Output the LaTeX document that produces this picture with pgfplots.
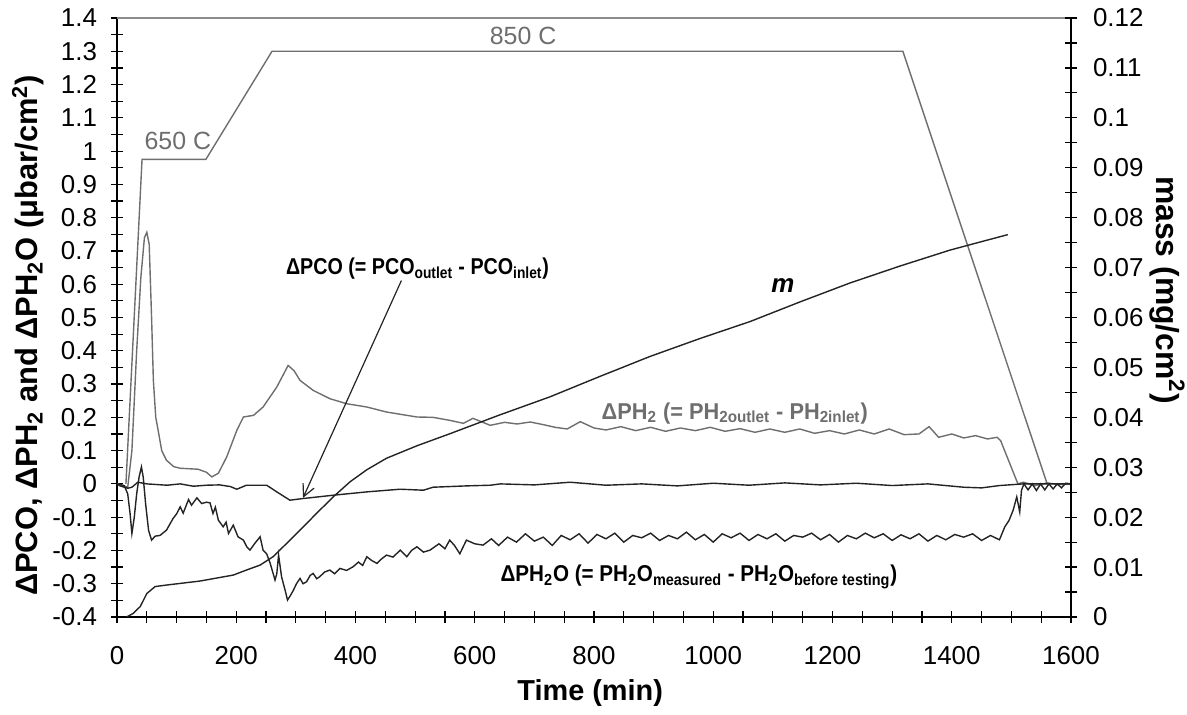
\documentclass[border=0pt]{standalone}
\usepackage{fontspec}
\setmainfont{Liberation Sans}
\usepackage{pgfplots}
\pgfplotsset{compat=1.18}
\usetikzlibrary{arrows.meta}
\definecolor{tgray}{RGB}{110,110,110}
\definecolor{bgray}{RGB}{140,140,140}
\definecolor{lblack}{RGB}{35,35,35}
\begin{document}
\begin{tikzpicture}
\path[use as bounding box] (-58.5bp,-49bp) rectangle (535bp,308.5bp);
\begin{axis}[
  at={(0,0)}, anchor=south west, scale only axis,
  width=477bp, height=299.5bp,
  xmin=0, xmax=1600, ymin=-0.4, ymax=1.4,
  axis x line*=bottom, axis y line*=left,
  xtick={0,200,400,600,800,1000,1200,1400,1600}, minor x tick num=3,
  ytick={-0.4,-0.3,-0.2,-0.1,0,0.1,0.2,0.3,0.4,0.5,0.6,0.7,0.8,0.9,1,1.1,1.2,1.3,1.4},
  minor y tick num=1,
  tick align=center, major tick length=6bp, minor tick length=6bp,
  tick style={black, line width=0.6bp},
  axis line style={black, line width=0.8bp},
  scaled ticks=false,
  ticklabel style={font=\fontsize{13}{15}\selectfont},
  /pgf/number format/assume math mode=true,
  /pgf/number format/1000 sep={},
  xticklabel shift=8bp, yticklabel shift=3.5bp,
  xlabel={\bfseries Time (min)},
  xlabel style={font=\fontsize{14.5}{16}\selectfont, at={(axis description cs:0.496,-0.127)}, anchor=center},
  ylabel={\bfseries ΔPCO, ΔPH\textsubscript{2} and ΔPH\textsubscript{2}O (μbar/cm\textsuperscript{2})},
  ylabel style={font=\fontsize{15.5}{17}\selectfont, at={(axis description cs:-0.0933,0.47)}, anchor=center},
]
\draw[color=bgray, line width=0.8bp] (rel axis cs:0,1) -- (rel axis cs:1,1);
% temperature profile
\addplot[tgray, line width=0.7bp] coordinates {
(15,0) (42,0.975) (149,0.975) (260,1.3) (1318,1.3) (1560,0)
};
% Delta PH2
\addplot[tgray, line width=0.7bp] coordinates {
(0,0) (10,-0.005) (18,-0.01) (25,0.1) (33,0.4) (40,0.62) (46,0.74) (50,0.756) (54,0.72) (58,0.5) (61,0.311) (65,0.2) (69,0.161) (75,0.1) (83,0.071) (95,0.052) (106,0.047) (136,0.044) (150,0.035) (159,0.021) (170,0.032) (184,0.081) (201,0.161) (212,0.201) (229,0.206) (245,0.231) (268,0.291) (287,0.356) (297,0.34) (307,0.311) (329,0.281) (357,0.256) (385,0.241) (419,0.231) (452,0.216) (503,0.201) (530,0.2) (558,0.191) (581,0.182) (597,0.197) (626,0.176) (650,0.185) (671,0.180) (693,0.186) (715,0.178) (735,0.170) (755,0.165) (777,0.187) (800,0.168) (820,0.162) (845,0.172) (870,0.160) (895,0.170) (920,0.158) (945,0.168) (970,0.160) (995,0.170) (1020,0.158) (1045,0.166) (1070,0.155) (1095,0.165) (1120,0.155) (1145,0.165) (1170,0.152) (1195,0.160) (1220,0.150) (1245,0.162) (1270,0.150) (1295,0.165) (1320,0.148) (1345,0.150) (1362,0.172) (1378,0.140) (1400,0.150) (1420,0.138) (1440,0.145) (1460,0.135) (1476,0.140) (1482,0.130) (1511,0.0) (1520,0.005) (1540,-0.005) (1560,0.003) (1580,-0.002) (1600,0.0)
};
% Delta PCO
\addplot[lblack, line width=0.7bp] coordinates {
(0,0) (5,-0.006) (18,-0.013) (25,-0.01) (35,0.005) (50,0) (84,-0.004) (106,0) (128,-0.007) (150,-0.004) (172,-0.003) (190,-0.008) (201,-0.016) (217,-0.004) (251,-0.004) (268,-0.024) (290,-0.049) (312,-0.044) (363,-0.034) (419,-0.024) (475,-0.016) (514,-0.019) (530,-0.01) (586,-0.006) (626,-0.004) (643,0) (700,-0.003) (760,0.005) (820,-0.004) (880,0.0) (940,-0.006) (1000,0.002) (1060,-0.004) (1120,0.003) (1180,-0.003) (1240,0.002) (1300,-0.005) (1360,0.0) (1420,-0.01) (1450,-0.012) (1480,-0.005) (1520,0.0) (1600,0.0)
};
% Delta PH2O
\addplot[lblack, line width=0.7bp] coordinates {
(0,0) (12,-0.005) (18,-0.03) (22,-0.09) (25,-0.149) (29,-0.1) (33,-0.03) (37,0.02) (41,0.051) (44,0.02) (48,-0.06) (53,-0.14) (58,-0.169) (64,-0.157) (72,-0.155) (83,-0.139) (94,-0.104) (100,-0.09) (106,-0.069) (111,-0.088) (120,-0.047) (125,-0.064) (134,-0.042) (142,-0.059) (150,-0.055) (156,-0.057) (161,-0.089) (165,-0.07) (170,-0.109) (178,-0.129) (183,-0.115) (187,-0.149) (195,-0.124) (203,-0.159) (212,-0.169) (218,-0.19) (223,-0.199) (231,-0.179) (240,-0.159) (245,-0.199) (251,-0.21) (257,-0.239) (265,-0.289) (268,-0.27) (271,-0.214) (276,-0.279) (282,-0.32) (286,-0.349) (291,-0.335) (296,-0.319) (301,-0.3) (307,-0.284) (312,-0.3) (318,-0.294) (324,-0.275) (329,-0.269) (335,-0.285) (340,-0.279) (348,-0.265) (357,-0.259) (365,-0.27) (374,-0.254) (385,-0.26) (396,-0.249) (405,-0.235) (412,-0.245) (419,-0.219) (427,-0.23) (436,-0.239) (444,-0.225) (452,-0.214) (463,-0.22) (475,-0.199) (486,-0.219) (494,-0.2) (503,-0.189) (514,-0.205) (525,-0.199) (540,-0.18) (550,-0.195) (558,-0.169) (566,-0.185) (575,-0.21) (586,-0.169) (600,-0.18) (614,-0.184) (628,-0.165) (640,-0.185)
(655,-0.160) (670,-0.175) (685,-0.150) (700,-0.172) (715,-0.160) (730,-0.185) (745,-0.155) (760,-0.168) (775,-0.150) (790,-0.178) (805,-0.152) (820,-0.165) (835,-0.148) (850,-0.175) (865,-0.155) (880,-0.162) (895,-0.148) (910,-0.170) (925,-0.155) (940,-0.165) (955,-0.145) (970,-0.168) (985,-0.152) (1000,-0.175) (1015,-0.150) (1030,-0.162) (1045,-0.148) (1060,-0.170) (1075,-0.152) (1090,-0.165) (1105,-0.150) (1120,-0.172) (1135,-0.155) (1150,-0.160) (1165,-0.148) (1180,-0.168) (1195,-0.152) (1210,-0.175) (1225,-0.155) (1240,-0.165) (1255,-0.148) (1270,-0.162) (1285,-0.150) (1300,-0.170) (1315,-0.153) (1330,-0.165) (1345,-0.150) (1360,-0.172) (1375,-0.155) (1390,-0.168) (1405,-0.152) (1420,-0.160) (1435,-0.150) (1450,-0.170) (1465,-0.155) (1480,-0.168)
(1489,-0.129) (1496,-0.11) (1503,-0.079) (1509,-0.039) (1514,-0.084) (1517,-0.019) (1521,0.0) (1528,-0.018) (1535,0.0) (1542,-0.02) (1549,0.0) (1556,-0.018) (1563,0.0) (1570,-0.015) (1577,0.0) (1584,-0.012) (1591,0.002) (1600,0.0)
};
\node[text=tgray, font=\fontsize{12.5}{14}\selectfont] at (axis cs:102,1.031) {650 C};
\node[text=tgray, font=\fontsize{12.5}{14}\selectfont] at (axis cs:681,1.345) {850 C};
\node[xscale=0.86, font=\bfseries\fontsize{11.5}{13}\selectfont] at (axis cs:504,0.647) {ΔPCO (= PCO\textsubscript{outlet} - PCO\textsubscript{inlet})};
\node[xscale=0.95, text=tgray, font=\bfseries\fontsize{11.5}{13}\selectfont] at (axis cs:1036,0.212) {ΔPH\textsubscript{2} (= PH\textsubscript{2outlet} - PH\textsubscript{2inlet})};
\node[xscale=0.9, font=\bfseries\fontsize{11.5}{13}\selectfont] at (axis cs:976,-0.28) {ΔPH\textsubscript{2}O (= PH\textsubscript{2}O\textsubscript{measured} - PH\textsubscript{2}O\textsubscript{before testing})};
\node[font=\bfseries\itshape\fontsize{13}{15}\selectfont] at (axis cs:1117,0.596) {m};
\draw[lblack, line width=0.6bp, -{Straight Barb[length=6bp,width=6bp]}] (axis cs:477,0.611) -- (axis cs:312,-0.042);
\end{axis}
\begin{axis}[
  at={(0,0)}, anchor=south west, scale only axis,
  width=477bp, height=299.5bp,
  xmin=0, xmax=1600, ymin=0, ymax=0.12,
  axis x line=none, axis y line*=right,
  ytick={0,0.01,0.02,0.03,0.04,0.05,0.06,0.07,0.08,0.09,0.1,0.11,0.12},
  minor y tick num=1,
  tick align=center, major tick length=6bp, minor tick length=6bp,
  tick style={black, line width=0.6bp},
  axis line style={black, line width=0.8bp},
  scaled ticks=false,
  ticklabel style={font=\fontsize{13}{15}\selectfont},
  /pgf/number format/assume math mode=true,
  yticklabel style={/pgf/number format/fixed, /pgf/number format/precision=2},
  yticklabel shift=4.5bp,
  ylabel={\bfseries mass (mg/cm\textsuperscript{2})},
  ylabel style={font=\fontsize{16}{18}\selectfont, at={(axis description cs:1.101,0.546)}, anchor=center, rotate=180},
]
\addplot[lblack, line width=0.7bp] coordinates {
(16,0) (27,0.0007) (39,0.0021) (50,0.0047) (64,0.0061) (83,0.0064) (111,0.0068) (139,0.0072) (167,0.0078) (195,0.0084) (217,0.0094) (240,0.0104) (262,0.0121) (285,0.0148) (307,0.0174) (335,0.0208) (363,0.0241) (391,0.0271) (419,0.0295) (452,0.0318) (503,0.0343) (558,0.0367) (640,0.0404) (726,0.0441) (810,0.0482) (894,0.0522) (978,0.0558) (1062,0.0592) (1145,0.0631) (1229,0.0669) (1313,0.0703) (1397,0.0735) (1450,0.0752) (1494,0.0766)
};
\end{axis}
\end{tikzpicture}
\end{document}
